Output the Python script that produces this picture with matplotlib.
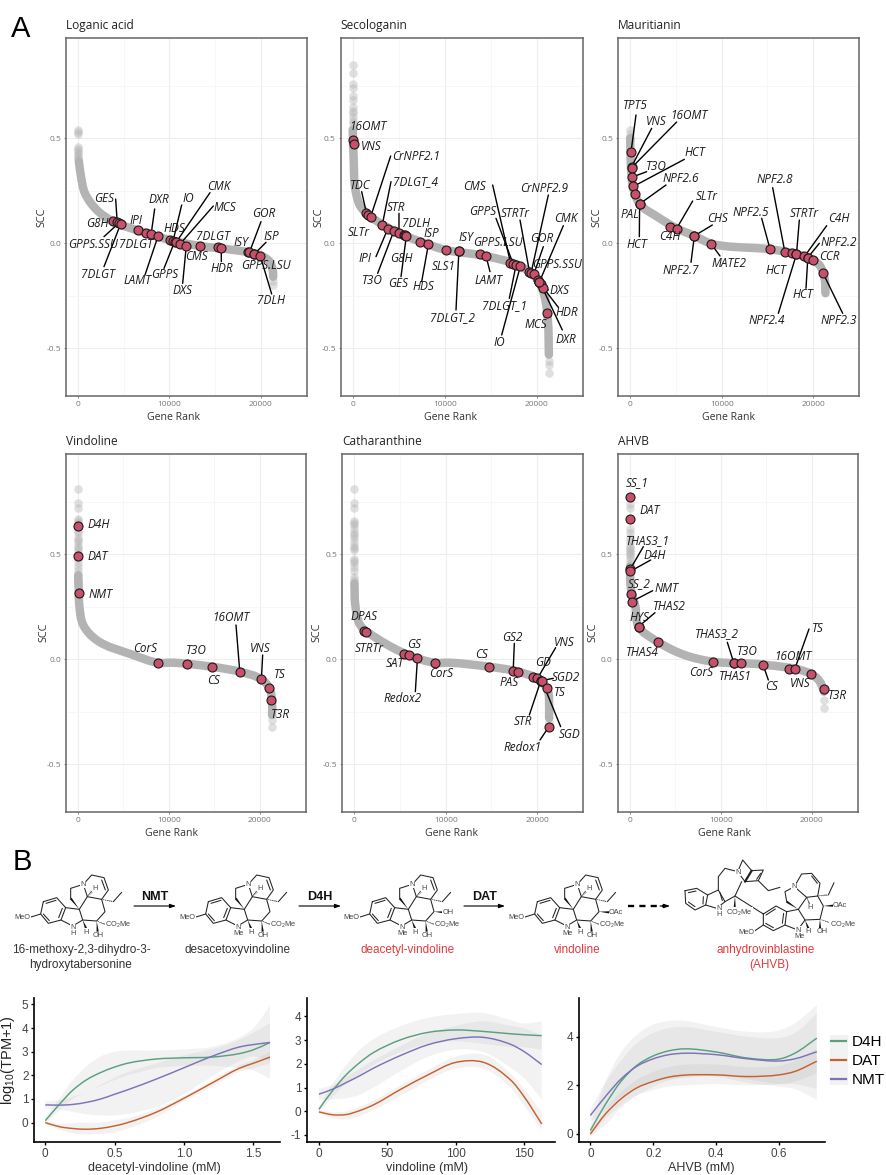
import numpy as np
import matplotlib
matplotlib.use('Agg')
import matplotlib.pyplot as plt
from matplotlib.lines import Line2D
from matplotlib.patches import PathPatch, Rectangle
from matplotlib.path import Path
from matplotlib.transforms import IdentityTransform

W, H = 887, 1175
plt.rcParams['axes.unicode_minus'] = False
plt.rcParams['mathtext.default'] = 'regular'
PANEL_FONT = 'Open Sans'
ARIAL = 'Liberation Sans'

# ---- gene rank panels: gray curve, faded tail points, named genes ----
lg_curve_rank = [100, 330, 760, 2040, 3850, 6600, 10000, 13300, 17000, 19850, 20950, 21300, 21350]
lg_curve_scc = [0.39, 0.317, 0.238, 0.159, 0.103, 0.06, 0.016, -0.013, -0.032, -0.056, -0.087, -0.127, -0.16]
lg_faint_rank = [0, 0, 0, 0, 0, 0, 0, 0, 0, 50, 21350, 21350]
lg_faint_scc = [0.54, 0.53, 0.52, 0.46, 0.45, 0.44, 0.43, 0.42, 0.41, 0.40, -0.18, -0.2]
lg_names = ['G8H', 'GES', 'GPPS.SSU', '7DLGT', 'IPI', '7DLGT', 'DXR', 'LAMT', 'HDS', 'IO', 'GPPS', 'CMK', 'MCS',
            'DXS', 'CMS', '7DLGT', 'HDR', 'ISY', 'GOR', 'ISP', 'GPPS.LSU', '7DLH']
lg_rank = [3855, 4290, 4440, 4655, 6580, 7490, 8000, 8760, 10070, 10400, 10580, 10760, 11200,
           11850, 13300, 15300, 15670, 18580, 18750, 19300, 19300, 19930]
lg_scc = [0.106, 0.1, 0.095, 0.09, 0.063, 0.051, 0.043, 0.034, 0.016, 0.011, 0.008, 0.006, -0.002,
          -0.011, -0.014, -0.017, -0.021, -0.043, -0.044, -0.051, -0.051, -0.059]

sl_curve_rank = [0, 100, 290, 840, 1930, 4470, 7310, 10100, 14300, 18290, 20110, 20840, 21200, 21310]
sl_curve_scc = [0.54, 0.397, 0.254, 0.175, 0.127, 0.059, 0.008, -0.032, -0.06, -0.111, -0.175, -0.254, -0.365, -0.53]
sl_faint_rank = [0, 0, 0, 0, 0, 0, 0, 0, 0, 0, 0, 0, 0, 21310, 21310, 21310]
sl_faint_scc = [0.85, 0.81, 0.76, 0.74, 0.7, 0.68, 0.65, 0.63, 0.62, 0.6, 0.58, 0.57, 0.55, -0.56, -0.58, -0.616]
sl_names = ['16OMT', 'VNS', 'TDC', 'SLTr', 'CrNPF2.1', '7DLGT_4', 'IPI', 'T3O', 'STR', '7DLH', 'G8H', 'GES',
            'ISP', 'HDS', 'SLS1', 'ISY', '7DLGT_2', 'GPPS.LSU', 'LAMT', 'CMS', 'GPPS', '7DLGT_1', 'IO',
            'STRTr', 'CrNPF2.9', 'GOR', 'GPPS.SSU', 'CMK', 'HDR', 'DXS', 'DXR', 'MCS']
sl_rank = [40, 110, 1490, 1640, 1930, 3200, 3820, 4470, 5020, 5560, 5670, 5820,
           7310, 8220, 10110, 11530, 11530, 13820, 14470, 17130, 17420, 17750, 18220,
           19200, 19380, 19670, 20110, 20290, 20400, 20620, 20290, 21130]
sl_scc = [0.492, 0.47, 0.143, 0.135, 0.124, 0.086, 0.07, 0.059, 0.051, 0.04, 0.038, 0.033,
          0.008, -0.005, -0.032, -0.037, -0.037, -0.051, -0.06, -0.092, -0.097, -0.102, -0.108,
          -0.135, -0.14, -0.148, -0.175, -0.183, -0.195, -0.214, -0.183, -0.33]

ma_curve_rank = [0, 70, 365, 1095, 2920, 5110, 7010, 8830, 10220, 15290, 18180, 19960, 20800, 21280, 21350]
ma_curve_scc = [0.5, 0.365, 0.254, 0.183, 0.127, 0.07, 0.035, -0.002, -0.013, -0.029, -0.052, -0.079, -0.111, -0.175, -0.238]
ma_faint_rank = [0, 0, 0]
ma_faint_scc = [0.54, 0.52, 0.5]
ma_names = ['TPT5', 'VNS', '16OMT', 'T3O', 'HCT', 'PAL', 'NPF2.6', 'HCT', 'C4H', 'SLTr', 'NPF2.7', 'CHS', 'MATE2',
            'NPF2.5', 'NPF2.8', 'HCT', 'STRTr', 'NPF2.4', 'C4H', 'NPF2.2', 'HCT', 'CCR', 'NPF2.3']
ma_rank = [70, 150, 160, 180, 330, 475, 1020, 1020, 4380, 5070, 7010, 7010, 8830,
           15290, 16900, 17740, 18180, 18180, 19050, 19420, 19420, 19960, 21090]
ma_scc = [0.432, 0.365, 0.36, 0.314, 0.27, 0.234, 0.187, 0.187, 0.079, 0.07, 0.035, 0.035, -0.002,
          -0.029, -0.04, -0.048, -0.052, -0.052, -0.063, -0.068, -0.068, -0.079, -0.143]

vi_curve_rank = [30, 80, 150, 590, 2050, 6070, 8775, 10500, 14700, 17800, 20180, 21060, 21350, 21350]
vi_curve_scc = [0.4, 0.34, 0.259, 0.163, 0.092, 0.021, -0.016, -0.016, -0.035, -0.059, -0.095, -0.137, -0.202, -0.265]
vi_faint_rank = [0] * 24 + [21330, 21330]
vi_faint_scc = [0.81, 0.745, 0.72, 0.67, 0.66, 0.65, 0.63, 0.61, 0.6, 0.58, 0.57, 0.56, 0.54, 0.53, 0.52, 0.5,
                0.48, 0.46, 0.44, 0.42, 0.40, 0.38, 0.37, 0.36, -0.29, -0.32]
vi_names = ['D4H', 'DAT', 'NMT', 'CorS', 'T3O', 'CS', '16OMT', 'VNS', 'TS', 'T3R']
vi_rank = [0, 0, 110, 8775, 11990, 14700, 17800, 20180, 21060, 21280]
vi_scc = [0.637, 0.494, 0.317, -0.016, -0.021, -0.035, -0.059, -0.095, -0.137, -0.194]

ca_curve_rank = [20, 110, 650, 2470, 6000, 8800, 10500, 14690, 17930, 20400, 21200, 21310, 21310]
ca_curve_scc = [0.36, 0.259, 0.163, 0.1, 0.019, -0.016, -0.016, -0.035, -0.059, -0.102, -0.154, -0.217, -0.28]
ca_faint_rank = [0] * 22 + [21310]
ca_faint_scc = [0.81, 0.745, 0.72, 0.66, 0.65, 0.64, 0.62, 0.6, 0.59, 0.58, 0.56, 0.54, 0.53, 0.52, 0.48, 0.47,
                0.46, 0.44, 0.42, 0.39, 0.38, 0.37, -0.3]
ca_names = ['DPAS', 'STRTr', 'SAT', 'GS', 'Redox2', 'CorS', 'CS', 'GS2', 'PAS', 'GD', 'VNS', 'SGD2', 'STR',
            'SGD', 'TS', 'Redox1']
ca_rank = [1020, 1270, 5490, 6040, 6910, 8800, 14690, 17380, 17930, 19560, 20040, 20400, 20400,
           20550, 21050, 21270]
ca_scc = [0.137, 0.129, 0.027, 0.019, 0.006, -0.016, -0.035, -0.056, -0.059, -0.084, -0.09, -0.102, -0.102,
          -0.105, -0.135, -0.322]

ah_curve_rank = [30, 150, 620, 985, 3070, 6000, 9120, 14630, 19930, 20880, 21310]
ah_curve_scc = [0.44, 0.333, 0.254, 0.156, 0.084, 0.021, -0.011, -0.025, -0.07, -0.107, -0.154]
ah_faint_rank = [0] * 16 + [21310, 21310]
ah_faint_scc = [0.74, 0.72, 0.62, 0.6, 0.58, 0.56, 0.54, 0.53, 0.52, 0.51, 0.5, 0.49, 0.48, 0.46, 0.45, 0.44, -0.194, -0.232]
ah_names = ['SS_1', 'DAT', 'THAS3_1', 'D4H', 'SS_2', 'NMT', 'HYS', 'THAS2', 'THAS4', 'CorS', 'THAS3_2', 'THAS1',
            'T3O', 'CS', '16OMT', 'TS', 'VNS', 'T3R']
ah_rank = [0, 0, 70, 70, 150, 220, 985, 985, 3070, 9120, 11420, 11420,
           12190, 14630, 17520, 18100, 19930, 21280]
ah_scc = [0.773, 0.668, 0.43, 0.419, 0.31, 0.275, 0.156, 0.156, 0.084, -0.011, -0.016, -0.016,
          -0.016, -0.025, -0.044, -0.048, -0.07, -0.143]

# label centres and leader ends, in crop pixels (3x, relative to each panel origin)
lg_text = [(291, 671), (312, 595), (279, 732), (295, 825), (407, 661), (408, 735), (476, 598), (413, 843), (523, 686),
           (564, 596), (495, 824), (655, 561), (674, 623), (547, 873), (590, 770), (640, 708), (665, 806), (724, 728),
           (792, 641), (813, 709), (798, 796), (812, 902)]
lg_lead = [None, (347, 597), (312, 710), (312, 800), None, None, (464, 627), (435, 825), None,
           (545, 615), (492, 805), (630, 578), (640, 618), (548, 850), None, None, (664, 785), None,
           (783, 665), (798, 727), None, (815, 882)]
sl_text = [(173, 379), (183, 440), (150, 557), (147, 698), (317, 468), (318, 545), (165, 774), (187, 842), (258, 622),
           (317, 670), (275, 775), (263, 851), (363, 700), (339, 861), (400, 798), (469, 712), (427, 954), (563, 729),
           (536, 840), (494, 558), (518, 635), (585, 917), (567, 1028), (616, 641), (703, 566), (695, 716), (742, 795),
           (767, 654), (771, 938), (749, 871), (768, 1018), (677, 973)]
sl_lead = [None, None, (155, 575), None, (242, 468), (243, 545), (198, 770), (203, 820), (267, 640),
           None, None, (273, 830), None, (335, 845), None, None, (438, 930), None,
           (540, 815), (548, 555), (558, 655), (598, 895), (575, 1005), (630, 660), (715, 585), (700, 740), None,
           (760, 677), (745, 922), (715, 870), (757, 990), None]
ma_text = [(135, 317), (198, 365), (298, 347), (200, 500), (316, 458), (120, 643), (273, 537), (142, 733), (238, 711),
           (351, 589), (273, 810), (384, 657), (418, 790), (481, 636), (553, 539), (558, 810), (643, 641), (531, 962),
           (746, 657), (746, 729), (640, 885), (718, 770), (746, 962)]
ma_lead = [(138, 345), (185, 385), (260, 366), (170, 515), (283, 478), None, (228, 555), (148, 710), None,
           (308, 603), (303, 787), (367, 675), (390, 768), (515, 655), (548, 563), None, (628, 660), (565, 940),
           (710, 677), (688, 730), (648, 865), None, (758, 940)]
vi_text = [(296, 300), (292, 396), (301, 510), (434, 671), (588, 675), (642, 767), (693, 578), (781, 671), (840, 747), (841, 870)]
vi_lead = [None, None, None, None, None, None, (708, 600), (788, 690), None, None]
ca_text = [(162, 576), (177, 669), (254, 716), (311, 658), (278, 820), (392, 745), (515, 689), (607, 638), (598, 772),
           (700, 714), (763, 651), (769, 758), (640, 890), (779, 928), (748, 803), (637, 968)]
ca_lead = [None, None, None, None, (316, 800), None, None, (613, 655), None,
           None, (737, 668), (730, 760), (658, 870), (752, 905), None, (690, 945)]
ah_text = [(143, 173), (179, 256), (175, 346), (194, 392), (149, 477), (229, 492), (148, 577), (238, 546), (157, 682),
           (333, 741), (381, 627), (435, 753), (472, 679), (546, 786), (610, 695), (683, 612), (631, 776), (744, 811)]
ah_lead = [None, None, (160, 365), (182, 405), None, (188, 497), None, (195, 563), None,
           None, (412, 652), None, None, (535, 765), None, (657, 612), None, None]

# ---- expression vs metabolite panels ----
deac_x = [0, 0.1, 0.2, 0.3, 0.4, 0.5, 0.6, 0.8, 1.0, 1.2, 1.4, 1.5, 1.62]
deac_d4h = [0.08, 0.76, 1.38, 1.82, 2.12, 2.35, 2.52, 2.69, 2.74, 2.77, 2.92, 3.08, 3.39]
deac_nmt = [0.75, 0.74, 0.77, 0.86, 1.0, 1.2, 1.40, 1.84, 2.32, 2.80, 3.2, 3.3, 3.39]
deac_dat = [0, -0.17, -0.25, -0.28, -0.24, -0.14, 0.01, 0.44, 1.03, 1.67, 2.30, 2.51, 2.77]
deac_d4h_hi = [0.2, 1.0, 1.8, 2.4, 2.8, 3.0, 3.05, 3.05, 3.1, 3.2, 3.6, 4.0, 4.95]
deac_d4h_lo = [-0.05, 0.5, 1.0, 1.3, 1.55, 1.8, 2.0, 2.3, 2.4, 2.4, 2.3, 2.2, 1.85]
deac_nmt_hi = [0.9, 0.95, 1.1, 1.3, 1.6, 1.9, 2.15, 2.5, 2.85, 3.1, 3.5, 3.8, 4.2]
deac_nmt_lo = [0.6, 0.55, 0.45, 0.35, 0.3, 0.3, 0.38, 0.65, 1.2, 1.95, 2.6, 2.8, 2.6]
deac_dat_hi = [0.05, -0.05, -0.02, 0, 0, 0.1, 0.2, 0.58, 1.12, 1.78, 2.42, 2.65, 3.0]
deac_dat_lo = [-0.05, -0.3, -0.45, -0.5, -0.48, -0.4, -0.25, 0.22, 0.9, 1.5, 2.15, 2.3, 2.5]

vind_x = [0, 10, 20, 30, 40, 60, 80, 100, 120, 140, 150, 163]
vind_d4h = [0.08, 0.87, 1.54, 2.06, 2.48, 3.02, 3.33, 3.43, 3.37, 3.27, 3.23, 3.19]
vind_nmt = [0.72, 0.93, 1.21, 1.5, 1.82, 2.36, 2.81, 3.06, 3.12, 2.83, 2.52, 1.97]
vind_dat = [-0.03, -0.15, -0.14, 0.03, 0.27, 0.93, 1.54, 2.06, 2.07, 1.33, 0.62, -0.54]
vind_d4h_hi = [0.2, 1.15, 1.95, 2.6, 3.05, 3.6, 3.95, 4.1, 4.15, 3.85, 3.7, 3.8]
vind_d4h_lo = [-0.05, 0.6, 1.15, 1.55, 1.95, 2.5, 2.85, 2.95, 2.85, 2.7, 2.7, 2.6]
vind_nmt_hi = [0.95, 1.1, 1.45, 1.8, 2.15, 2.75, 3.3, 3.6, 3.8, 3.6, 3.5, 3.2]
vind_nmt_lo = [0.5, 0.5, 0.55, 0.7, 1.0, 1.7, 2.3, 2.6, 2.5, 1.85, 1.4, 0.5]
vind_dat_hi = [0.05, -0.05, 0, 0.2, 0.45, 1.1, 1.75, 2.3, 2.4, 1.6, 0.95, -0.05]
vind_dat_lo = [-0.1, -0.3, -0.35, -0.2, 0.05, 0.65, 1.3, 1.8, 1.8, 1.0, 0.25, -0.8]

ahvb_x = [0, 0.05, 0.1, 0.15, 0.2, 0.25, 0.3, 0.4, 0.5, 0.6, 0.65, 0.72]
ahvb_d4h = [0.14, 1.26, 2.2, 2.84, 3.21, 3.42, 3.5, 3.37, 3.12, 3.08, 3.32, 3.94]
ahvb_nmt = [0.76, 1.57, 2.29, 2.8, 3.09, 3.26, 3.32, 3.26, 3.09, 3.0, 3.09, 3.38]
ahvb_dat = [0, 0.85, 1.47, 1.91, 2.16, 2.34, 2.42, 2.43, 2.36, 2.43, 2.57, 2.99]
ahvb_d4h_hi = [0.35, 2.2, 3.4, 4.1, 4.5, 4.65, 4.65, 4.4, 4.2, 4.25, 4.55, 5.3]
ahvb_d4h_lo = [-0.1, 0.4, 1.1, 1.6, 1.95, 2.2, 2.35, 2.35, 2.1, 1.95, 1.85, 1.4]
ahvb_nmt_hi = [1.0, 2.15, 3.05, 3.75, 4.15, 4.35, 4.4, 4.2, 4.0, 3.95, 4.15, 4.95]
ahvb_nmt_lo = [0.5, 1.0, 1.55, 1.95, 2.15, 2.25, 2.3, 2.4, 2.25, 2.05, 2.05, 1.85]
ahvb_dat_hi = [0.1, 1.05, 1.75, 2.25, 2.55, 2.75, 2.85, 2.85, 2.75, 2.8, 3.0, 3.5]
ahvb_dat_lo = [-0.1, 0.65, 1.2, 1.6, 1.8, 1.95, 2.0, 2.05, 2.0, 2.05, 2.15, 2.5]

D4H_COL, DAT_COL, NMT_COL = '#5aa07f', '#c9602e', '#7b74b8'


def axpx(l, t, r, b):
    return fig.add_axes([l / W, 1 - b / H, (r - l) / W, (b - t) / H])


def bezier(ax, x, y):
    # bezier control points through the read values, in display pixels
    pts = ax.transData.transform(np.column_stack([x, y]))
    seg = np.diff(pts, axis=0)
    chord = np.linalg.norm(seg, axis=1)
    unit = seg / chord[:, None]
    tang = np.vstack([unit[:1], unit[:-1] + unit[1:], unit[-1:]])
    tang = tang / np.linalg.norm(tang, axis=1)[:, None]
    verts = [pts[0]]
    for i in range(len(chord)):
        verts += [pts[i] + tang[i] * chord[i] / 3, pts[i + 1] - tang[i + 1] * chord[i] / 3, pts[i + 1]]
    return np.array(verts)


def smooth_line(ax, x, y, **kw):
    v = bezier(ax, x, y)
    codes = [Path.MOVETO] + [Path.CURVE4] * (len(v) - 1)
    ax.add_patch(PathPatch(Path(v, codes), fill=False, transform=IdentityTransform(), **kw))


def smooth_band(ax, x, lo, hi):
    up = bezier(ax, x, hi)
    dn = bezier(ax, x[::-1], lo[::-1])
    v = np.vstack([up, dn, dn[-1:]])
    codes = [Path.MOVETO] + [Path.CURVE4] * (len(up) - 1) + [Path.LINETO] + [Path.CURVE4] * (len(dn) - 1) + [Path.CLOSEPOLY]
    ax.add_patch(PathPatch(Path(v, codes), facecolor='#888888', edgecolor='none', alpha=0.1, lw=0,
                           transform=IdentityTransform()))


fig = plt.figure(figsize=(W / 100, H / 100), dpi=100, facecolor='white')

# overlay in figure pixels, for labels and the chemistry
ov = fig.add_axes([0, 0, 1, 1], zorder=20)
ov.set_xlim(0, W)
ov.set_ylim(H, 0)
ov.axis('off')
ov.patch.set_alpha(0)


def rank_panel(box, title, origin, curve, faint, genes, text_xy, lead_xy, scc_x, rank_x, y_mid):
    ax = axpx(*box)
    ax.set_xlim(-1310, 25050)
    ax.set_ylim(-0.727, 0.978)
    ax.set_xticks([0, 10000, 20000])
    ax.set_xticks([5000, 15000], minor=True)
    ax.set_yticks([-0.5, 0, 0.5])
    ax.set_yticklabels(['-0.5', '0.0', '0.5'])
    ax.set_yticks([-0.25, 0.25, 0.75], minor=True)
    ax.grid(True, which='major', color='#eeeeee', lw=0.8)
    ax.grid(True, which='minor', color='#f4f4f4', lw=0.5)
    ax.set_axisbelow(True)
    ax.tick_params(which='major', length=1.5, width=0.6, color='#777777', labelcolor='#777777', labelsize=6, pad=2)
    ax.tick_params(which='minor', length=0)
    for t in ax.get_xticklabels() + ax.get_yticklabels():
        t.set_family(PANEL_FONT)
    for s in ax.spines.values():
        s.set_color('#666666')
        s.set_linewidth(1.1)
    smooth_line(ax, curve[0], curve[1], edgecolor='#b3b3b3', lw=6.1, capstyle='round', zorder=2)
    ax.scatter(faint[0], faint[1], s=38, color='#b3b3b3', alpha=0.4, lw=0, zorder=2)
    names, ranks, sccs = genes
    ox, oy = origin
    for name, r, s, xy, end in zip(names, ranks, sccs, text_xy, lead_xy):
        ov.text(ox + xy[0] / 3, oy + xy[1] / 3, name, family=PANEL_FONT, style='italic', fontsize=8.5,
                color='#1a1a1a', ha='center', va='center')
        if end is not None:
            ax.annotate('', xy=(r, s), xytext=(ox + end[0] / 3, oy + end[1] / 3), textcoords=ov.transData,
                        arrowprops=dict(arrowstyle='-', color='black', lw=1.0, shrinkA=0, shrinkB=0), zorder=3)
    ax.scatter(ranks, sccs, s=42, facecolor='#c8506a', edgecolor='#1a1a1a', lw=0.8, zorder=4)
    ax.set_title(title, loc='left', fontsize=8.6, family=PANEL_FONT, color='#222222', pad=6.5)
    ov.text(scc_x, y_mid, 'SCC', rotation=90, family=PANEL_FONT, fontsize=7.8, color='#333333', ha='center', va='center')
    ov.text(rank_x, box[3] + 21, 'Gene Rank', family=PANEL_FONT, fontsize=7.6, color='#333333', ha='center', va='center')
    return ax


rank_panel((66, 37.7, 307, 396), 'Loganic acid', (0, 0), (lg_curve_rank, lg_curve_scc), (lg_faint_rank, lg_faint_scc),
           (lg_names, lg_rank, lg_scc), lg_text, lg_lead, 42, 174, 217)
rank_panel((340.7, 37.7, 583.3, 396), 'Secologanin', (310, 0), (sl_curve_rank, sl_curve_scc), (sl_faint_rank, sl_faint_scc),
           (sl_names, sl_rank, sl_scc), sl_text, sl_lead, 319, 451, 217)
rank_panel((618.3, 37.7, 859.3, 396), 'Mauritianin', (590, 0), (ma_curve_rank, ma_curve_scc), (ma_faint_rank, ma_faint_scc),
           (ma_names, ma_rank, ma_scc), ma_text, ma_lead, 597, 729, 217)
rank_panel((66, 454, 305.7, 812), 'Vindoline', (0, 425), (vi_curve_rank, vi_curve_scc), (vi_faint_rank, vi_faint_scc),
           (vi_names, vi_rank, vi_scc), vi_text, vi_lead, 44, 172, 632)
rank_panel((342.3, 454, 583.3, 812), 'Catharanthine', (310, 425), (ca_curve_rank, ca_curve_scc), (ca_faint_rank, ca_faint_scc),
           (ca_names, ca_rank, ca_scc), ca_text, ca_lead, 317, 452, 632)
rank_panel((617.7, 454, 858, 812), 'AHVB', (590, 425), (ah_curve_rank, ah_curve_scc), (ah_faint_rank, ah_faint_scc),
           (ah_names, ah_rank, ah_scc), ah_text, ah_lead, 593, 725, 632)


def expr_panel(box, xlim, ylim, xt, xtl, yt, x, lines, bands):
    ax = axpx(*box)
    ax.set_xlim(*xlim)
    ax.set_ylim(*ylim)
    for lo, hi in bands:
        smooth_band(ax, x, lo, hi)
    for y, col in lines:
        smooth_line(ax, x, y, edgecolor=col, lw=1.05)
    ax.set_xticks(xt)
    ax.set_xticklabels(xtl)
    ax.set_yticks(yt)
    ax.tick_params(length=2.2, width=1, color='black', labelcolor='#444444', labelsize=8.5, pad=2)
    for t in ax.get_xticklabels() + ax.get_yticklabels():
        t.set_family(ARIAL)
    for s in ['top', 'right']:
        ax.spines[s].set_visible(False)
    for s in ['left', 'bottom']:
        ax.spines[s].set_linewidth(1.2)
    return ax


expr_panel((34.3, 998, 280, 1142), (-0.079, 1.692), (-0.82, 5.27), [0, 0.5, 1.0, 1.5], ['0', '0.5', '1.0', '1.5'],
           [0, 1, 2, 3, 4, 5], deac_x,
           [(deac_d4h, D4H_COL), (deac_nmt, NMT_COL), (deac_dat, DAT_COL)],
           [(deac_d4h_lo, deac_d4h_hi), (deac_nmt_lo, deac_nmt_hi), (deac_dat_lo, deac_dat_hi)])
expr_panel((307.3, 998, 555, 1142), (-8.5, 172.7), (-1.30, 4.78), [0, 50, 100, 150], ['0', '50', '100', '150'],
           [-1, 0, 1, 2, 3, 4], vind_x,
           [(vind_d4h, D4H_COL), (vind_nmt, NMT_COL), (vind_dat, DAT_COL)],
           [(vind_d4h_lo, vind_d4h_hi), (vind_nmt_lo, vind_nmt_hi), (vind_dat_lo, vind_dat_hi)])
ax_ahvb = expr_panel((579, 998, 825, 1142), (-0.036, 0.746), (-0.33, 5.59), [0, 0.2, 0.4, 0.6], ['0', '0.2', '0.4', '0.6'],
                     [0, 2, 4], ahvb_x,
                     [(ahvb_d4h, D4H_COL), (ahvb_nmt, NMT_COL), (ahvb_dat, DAT_COL)],
                     [(ahvb_d4h_lo, ahvb_d4h_hi), (ahvb_nmt_lo, ahvb_nmt_hi), (ahvb_dat_lo, ahvb_dat_hi)])

ov.text(154, 1168, 'deacetyl-vindoline (mM)', family=ARIAL, fontsize=9, color='#333333', ha='center', va='center')
ov.text(427, 1168, 'vindoline (mM)', family=ARIAL, fontsize=9, color='#333333', ha='center', va='center')
ov.text(701, 1168, 'AHVB (mM)', family=ARIAL, fontsize=9, color='#333333', ha='center', va='center')
ov.text(8.5, 1060, 'log$_{10}$(TPM+1)', family=ARIAL, fontsize=10.5, color='#222222', rotation=90, ha='center', va='center')

ov.add_patch(Rectangle((830, 1035), 18, 50, facecolor='#f2f2f2', edgecolor='none', zorder=0))
handles = [Line2D([], [], color=D4H_COL, lw=1.6), Line2D([], [], color=DAT_COL, lw=1.6), Line2D([], [], color=NMT_COL, lw=1.6)]
ov.legend(handles, ['D4H', 'DAT', 'NMT'], loc='center left', bbox_to_anchor=(831, 1061), bbox_transform=ov.transData,
          frameon=False, borderpad=0, borderaxespad=0, handlelength=0.95, handletextpad=0.4, labelspacing=0.33,
          prop={'family': ARIAL, 'size': 11})


# ---- panel B chemistry, drawn in crop pixels of the scheme row ----
def P(x, y, dx, dy):
    return (dx + x) / 3, 840 + (dy + y) / 3


def bonds(chain, dx=0, dy=0, lw=0.75):
    pts = [P(x, y, dx, dy) for x, y in chain]
    ov.plot([p[0] for p in pts], [p[1] for p in pts], color='#222222', lw=lw, solid_capstyle='round')


def wedge(a, b, dx=0, dy=0, w=1.1):
    # triangle with its wide end across the bond
    ax_, ay_ = P(a[0], a[1], dx, dy)
    bx_, by_ = P(b[0], b[1], dx, dy)
    n = np.hypot(bx_ - ax_, by_ - ay_)
    px_, py_ = -(by_ - ay_) / n * w, (bx_ - ax_) / n * w
    ov.fill([ax_, bx_ - px_, bx_ + px_], [ay_, by_ - py_, by_ + py_], color='#111111', lw=0)


def hashed(a, b, dx=0, dy=0):
    for i in range(1, 6):
        f = i / 6
        x, y = a[0] + (b[0] - a[0]) * f, a[1] + (b[1] - a[1]) * f
        bonds([(x - 1.4 * f - 1, y - 2.2 * f), (x + 1.4 * f + 1, y + 2.2 * f)], dx, dy, lw=0.45)


def atom(x, y, s, dx=0, dy=0, size=5.3):
    px, py = P(x, y, dx, dy)
    ov.text(px, py, s, family=ARIAL, fontsize=size, color='#444444', ha='center', va='center',
            bbox=dict(facecolor='white', edgecolor='none', pad=0.2))


def skeleton(dx=0, dy=0, nme=True, sub=None):
    bonds([(130, 185), (170, 173), (197, 203), (183, 240), (145, 250), (122, 222), (130, 185)], dx, dy)
    bonds([(138, 190), (168, 181)], dx, dy)
    bonds([(187, 205), (176, 233)], dx, dy)
    bonds([(148, 242), (130, 222)], dx, dy)
    bonds([(90, 232), (122, 222)], dx, dy)
    bonds([(197, 203), (238, 208), (248, 240), (218, 258), (183, 240)], dx, dy)
    wedge((238, 208), (212, 175), dx, dy)
    bonds([(212, 175), (212, 145), (250, 133), (262, 170), (238, 208)], dx, dy)
    bonds([(250, 133), (275, 105), (312, 113), (325, 150), (305, 178), (262, 170)], dx, dy)
    bonds([(305, 120), (316, 150)], dx, dy)
    bonds([(305, 178), (315, 215), (290, 243), (248, 240)], dx, dy)
    hashed((305, 178), (340, 185), dx, dy)
    bonds([(340, 185), (365, 157)], dx, dy)
    hashed((290, 243), (320, 255), dx, dy)
    wedge((290, 243), (293, 275), dx, dy)
    wedge((248, 240), (258, 265), dx, dy)
    hashed((262, 170), (277, 152), dx, dy)
    atom(68, 232, 'MeO', dx, dy)
    atom(250, 133, 'N', dx, dy)
    atom(285, 145, 'H', dx, dy)
    atom(218, 262, 'N', dx, dy)
    atom(218 if not nme else 220, 280, 'Me' if nme else 'H', dx, dy)
    atom(258, 276, 'H', dx, dy)
    atom(296, 287, 'OH', dx, dy)
    atom(354, 254, 'CO$_2$Me', dx, dy)
    if sub:
        wedge((315, 215), (345, 217), dx, dy)
        atom(358 if sub == 'OH' else 366, 217, sub, dx, dy)


skeleton(0, 0, nme=False)
skeleton(495, 0)
skeleton(987, 0, sub='OH')
skeleton(1482, 0, sub='OAc')

# the dimer, upper half then lower half
o = 1320
bonds([(735, 152), (770, 145), (803, 165), (797, 195), (765, 210), (737, 190), (735, 152)], o)
bonds([(745, 158), (768, 153)], o)
bonds([(790, 170), (789, 192)], o)
bonds([(745, 186), (765, 200)], o)
bonds([(803, 165), (835, 150), (855, 185), (830, 205), (797, 195)], o)
bonds([(840, 158), (847, 182)], o)
bonds([(835, 150), (835, 110), (855, 85), (893, 95), (908, 60), (935, 92), (970, 90), (955, 122), (915, 125), (893, 95)], o)
bonds([(855, 185), (885, 168), (905, 125)], o)
bonds([(962, 100), (950, 118)], o)
bonds([(885, 168), (970, 222)], o)
bonds([(955, 122), (985, 152), (1020, 142)], o)
bonds([(935, 92), (915, 125)], o, lw=1.6)
wedge((885, 168), (884, 205), o)
atom(893, 97, 'N', o)
atom(838, 205, 'N', o)
atom(838, 222, 'H', o)
atom(898, 218, 'CO$_2$Me', o)

bonds([(970, 222), (1008, 198), (1040, 215), (1035, 255), (1000, 272), (970, 255), (970, 222)], o)
bonds([(978, 225), (1006, 207)], o)
bonds([(1031, 220), (1027, 250)], o)
bonds([(1000, 263), (977, 250)], o)
bonds([(945, 272), (970, 255)], o)
bonds([(1040, 215), (1075, 208), (1095, 240), (1073, 270), (1035, 255)], o)
wedge((1075, 208), (1040, 185), o)
bonds([(1040, 185), (1035, 155), (1063, 140), (1100, 172), (1075, 208)], o)
bonds([(1063, 140), (1085, 102), (1115, 100), (1140, 130), (1133, 168), (1100, 172)], o)
bonds([(1115, 108), (1132, 130)], o)
bonds([(1133, 168), (1150, 198), (1140, 238), (1095, 240)], o)
hashed((1133, 168), (1165, 165), o)
bonds([(1165, 165), (1182, 128)], o)
hashed((1140, 238), (1175, 250), o)
hashed((1100, 172), (1110, 195), o)
wedge((1140, 238), (1140, 265), o)
wedge((1095, 240), (1105, 265), o)
wedge((1150, 198), (1180, 197), o)
atom(1063, 140, 'N', o)
atom(1073, 270, 'N', o)
atom(1080, 290, 'Me', o)
atom(1110, 203, 'H', o)
atom(1105, 275, 'H', o)
atom(1148, 275, 'OH', o)
atom(1200, 197, 'OAc', o)
atom(1208, 254, 'CO$_2$Me', o)
atom(920, 277, 'MeO', o)

for txt, x in [('16-methoxy-2,3-dihydro-3-', 81.7), ('desacetoxyvindoline', 238)]:
    ov.text(x, 950, txt, family=ARIAL, fontsize=8.5, color='#333333', ha='center', va='center')
ov.text(81, 965, 'hydroxytabersonine', family=ARIAL, fontsize=8.5, color='#333333', ha='center', va='center')
for txt, x, y in [('deacetyl-vindoline', 408, 950), ('vindoline', 577, 950), ('anhydrovinblastine', 766, 950), ('(AHVB)', 769, 965)]:
    ov.text(x, y, txt, family=ARIAL, fontsize=8.5, color='#e03a3e', ha='center', va='center')

for txt, x0, x1 in [('NMT', 134, 176), ('D4H', 299, 341), ('DAT', 464, 505)]:
    ov.text((x0 + x1) / 2, 896.5, txt, family=ARIAL, fontweight='bold', fontsize=9, color='#111111', ha='center', va='center')
    ov.annotate('', xy=(x1, 906), xytext=(x0, 906),
                arrowprops=dict(arrowstyle='-|>,head_length=0.35,head_width=0.12', color='black', lw=0.8, shrinkA=0, shrinkB=0))
ov.plot([628, 664], [906, 906], color='black', lw=1.7, ls=(0, (2.6, 2.2)))
ov.annotate('', xy=(670, 906), xytext=(660, 906),
            arrowprops=dict(arrowstyle='-|>,head_length=0.35,head_width=0.12', color='black', lw=0.8, shrinkA=0, shrinkB=0))

ov.text(21, 29, 'A', family=ARIAL, fontsize=21, color='black', ha='center', va='center')
ov.text(22, 862, 'B', family=ARIAL, fontsize=21, color='black', ha='center', va='center')

fig.savefig('out.png', dpi=100)
